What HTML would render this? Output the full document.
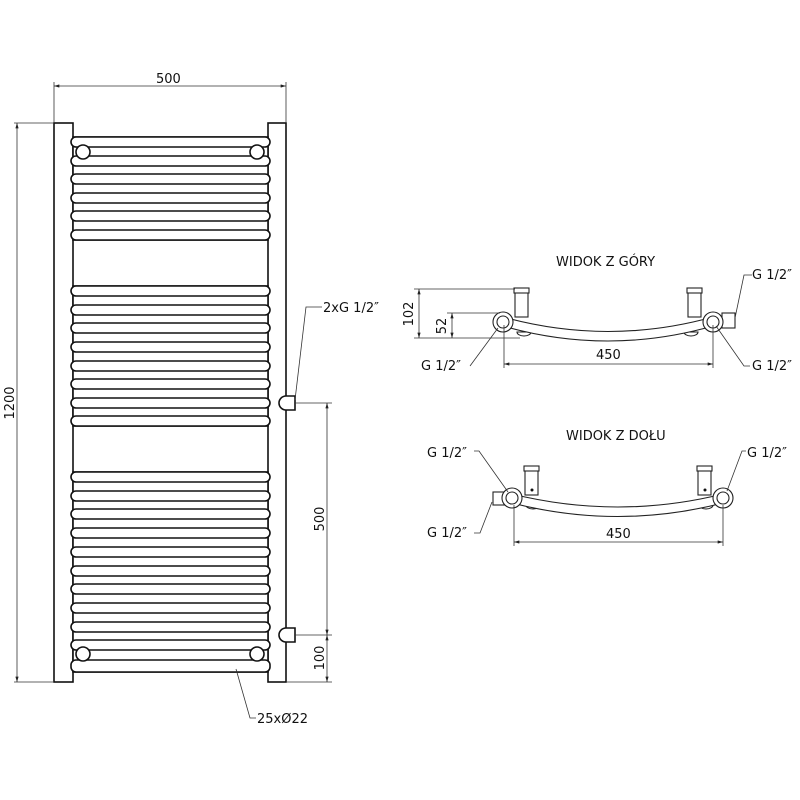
<!DOCTYPE html>
<html><head><meta charset="utf-8"><style>body{margin:0;background:#fff}svg{display:block}text{font-family:"DejaVu Sans","Liberation Sans",sans-serif;font-size:13px;fill:#111}</style></head><body>
<svg width="800" height="800" viewBox="0 0 800 800" xmlns="http://www.w3.org/2000/svg">
<defs><marker id="a" viewBox="0 0 10 6" refX="10" refY="3" markerWidth="7" markerHeight="4" orient="auto-start-reverse"><path d="M0,0L10,3L0,6z" fill="#222"/></marker></defs>
<g fill="#fff" stroke="#111" stroke-width="1.6">
<rect x="54" y="123" width="19" height="559"/>
<rect x="268" y="123" width="18" height="559"/>
<rect x="73" y="137" width="195" height="103"/>
<rect x="73" y="286" width="195" height="140"/>
<rect x="73" y="472" width="195" height="200"/>
<g>
<rect x="71" y="137" width="199" height="10" rx="5"/>
<rect x="71" y="156" width="199" height="10" rx="5"/>
<rect x="71" y="174" width="199" height="10" rx="5"/>
<rect x="71" y="193" width="199" height="10" rx="5"/>
<rect x="71" y="211" width="199" height="10" rx="5"/>
<rect x="71" y="230" width="199" height="10" rx="5"/>
<rect x="71" y="286" width="199" height="10" rx="5"/>
<rect x="71" y="305" width="199" height="10" rx="5"/>
<rect x="71" y="323" width="199" height="10" rx="5"/>
<rect x="71" y="342" width="199" height="10" rx="5"/>
<rect x="71" y="361" width="199" height="10" rx="5"/>
<rect x="71" y="379" width="199" height="10" rx="5"/>
<rect x="71" y="398" width="199" height="10" rx="5"/>
<rect x="71" y="416" width="199" height="10" rx="5"/>
<rect x="71" y="472" width="199" height="10" rx="5"/>
<rect x="71" y="491" width="199" height="10" rx="5"/>
<rect x="71" y="509" width="199" height="10" rx="5"/>
<rect x="71" y="528" width="199" height="10" rx="5"/>
<rect x="71" y="547" width="199" height="10" rx="5"/>
<rect x="71" y="566" width="199" height="10" rx="5"/>
<rect x="71" y="584" width="199" height="10" rx="5"/>
<rect x="71" y="603" width="199" height="10" rx="5"/>
<rect x="71" y="622" width="199" height="10" rx="5"/>
<rect x="71" y="640" width="199" height="10" rx="5"/>
<rect x="71" y="660" width="199" height="12" rx="5"/>
</g>
<circle cx="83" cy="152" r="7"/><circle cx="257" cy="152" r="7"/>
<circle cx="83" cy="654" r="7"/><circle cx="257" cy="654" r="7"/>
<path d="M286,396 h9 v14 h-9 a7,7 0 0 1 0,-14z"/>
<path d="M286,628 h9 v14 h-9 a7,7 0 0 1 0,-14z"/>
</g>
<g stroke="#333" stroke-width="0.8" fill="none">
<line x1="54" y1="123" x2="54" y2="82"/><line x1="286" y1="123" x2="286" y2="82"/>
<line x1="54" y1="86" x2="286" y2="86" marker-start="url(#a)" marker-end="url(#a)"/>
<line x1="14" y1="123" x2="54" y2="123"/><line x1="14" y1="682" x2="54" y2="682"/>
<line x1="17" y1="123" x2="17" y2="682" marker-start="url(#a)" marker-end="url(#a)"/>
<line x1="295" y1="403" x2="332" y2="403"/><line x1="295" y1="635" x2="332" y2="635"/><line x1="286" y1="682" x2="332" y2="682"/>
<line x1="327" y1="403" x2="327" y2="635" marker-start="url(#a)" marker-end="url(#a)"/>
<line x1="327" y1="635" x2="327" y2="682" marker-start="url(#a)" marker-end="url(#a)"/>
<polyline points="295,400 306,307 322,307"/>
<polyline points="236,669 250,718 256,718"/>
</g>
<text x="156" y="83">500</text>
<text transform="translate(14,403) rotate(-90)" text-anchor="middle">1200</text>
<text transform="translate(324,519) rotate(-90)" text-anchor="middle">500</text>
<text transform="translate(324,658) rotate(-90)" text-anchor="middle">100</text>
<text x="323" y="312">2xG 1/2″</text>
<text x="257" y="723">25xØ22</text>

<!-- top view -->
<text x="556" y="266">WIDOK Z GÓRY</text>
<g fill="#fff" stroke="#222" stroke-width="1.1">
<rect x="515" y="290" width="13" height="27"/><rect x="514" y="288" width="15" height="5"/>
<rect x="688" y="290" width="13" height="27"/><rect x="687" y="288" width="15" height="5"/>
<path d="M517,332 a7,4 0 0 0 14,0z"/><path d="M684,332 a7,4 0 0 0 14,0z"/>
<rect x="722" y="313" width="13" height="15"/>
<path d="M503,317 Q608,346 713,317 L713,326 Q608,356 503,326z"/>
<circle cx="503" cy="322" r="10"/><circle cx="503" cy="322" r="6"/>
<circle cx="713" cy="322" r="10"/><circle cx="713" cy="322" r="6"/>
</g>
<g stroke="#333" stroke-width="0.8" fill="none">
<line x1="414" y1="289" x2="515" y2="289"/><line x1="414" y1="338" x2="520" y2="338"/>
<line x1="447" y1="313" x2="500" y2="313"/>
<line x1="419" y1="289" x2="419" y2="338" marker-start="url(#a)" marker-end="url(#a)"/>
<line x1="452" y1="313" x2="452" y2="338" marker-start="url(#a)" marker-end="url(#a)"/>
<line x1="504" y1="325" x2="504" y2="368"/><line x1="713" y1="325" x2="713" y2="368"/>
<line x1="504" y1="364" x2="713" y2="364" marker-start="url(#a)" marker-end="url(#a)"/>
<polyline points="470,366 498,328"/><polyline points="750,366 744,366 716,326"/>
<polyline points="735,318 744,275 752,275"/>
</g>
<text transform="translate(413,314) rotate(-90)" text-anchor="middle">102</text>
<text transform="translate(446,326) rotate(-90)" text-anchor="middle">52</text>
<text x="596" y="359">450</text>
<text x="421" y="370">G 1/2″</text>
<text x="752" y="370">G 1/2″</text>
<text x="752" y="279">G 1/2″</text>

<!-- bottom view -->
<text x="566" y="440">WIDOK Z DOŁU</text>
<g fill="#fff" stroke="#222" stroke-width="1.1">
<rect x="525" y="468" width="13" height="27"/><rect x="524" y="466" width="15" height="5"/>
<rect x="698" y="468" width="13" height="27"/><rect x="697" y="466" width="15" height="5"/>
<path d="M526,505 a7,4 0 0 0 14,0z"/><path d="M699,505 a7,4 0 0 0 14,0z"/>
<rect x="493" y="492" width="13" height="13"/>
<path d="M512,494 Q618,520 723,494 L723,503 Q618,530 512,503z"/>
<circle cx="512" cy="498" r="10"/><circle cx="512" cy="498" r="6"/>
<circle cx="723" cy="498" r="10"/><circle cx="723" cy="498" r="6"/>
</g>
<circle cx="532" cy="490" r="1.5" fill="#111"/><circle cx="705" cy="490" r="1.5" fill="#111"/>
<g stroke="#333" stroke-width="0.8" fill="none">
<line x1="514" y1="505" x2="514" y2="546"/><line x1="723" y1="505" x2="723" y2="546"/>
<line x1="514" y1="542" x2="723" y2="542" marker-start="url(#a)" marker-end="url(#a)"/>
<polyline points="474,451 479,451 508,492"/><polyline points="746,451 742,451 727,491"/>
<polyline points="474,533 480,533 492,502"/>
</g>
<text x="606" y="538">450</text>
<text x="427" y="457">G 1/2″</text>
<text x="747" y="457">G 1/2″</text>
<text x="427" y="537">G 1/2″</text>
</svg>
</body></html>
